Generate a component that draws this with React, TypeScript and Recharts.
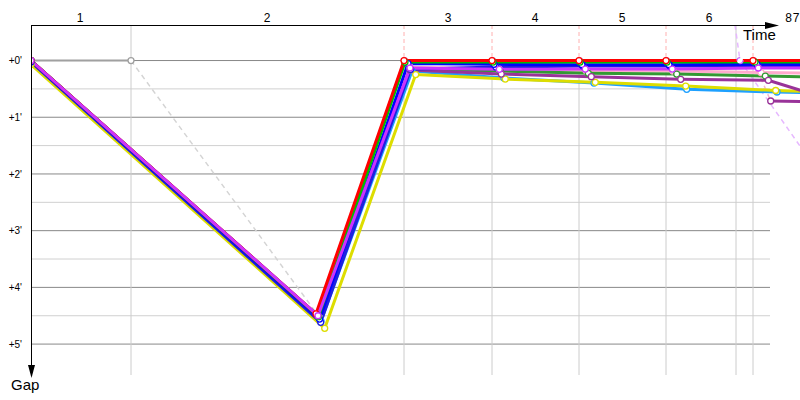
import { Line, LineChart, ReferenceLine, XAxis, YAxis } from "recharts";

type Pt = [number, number | null];

// [time (s), gap (s)] at each lap crossing
const red: Pt[] = [[0, 0], [285, 268], [373, 0], [461, 0], [548, 0], [635, 0], [722, 0], [810, 0]];
const green: Pt[] = [[0, 0], [287.5, 271], [374, 1.6], [462, 1.6], [549, 1.6], [636, 1.6], [724, 1.6], [811, 1.6]];
const blue: Pt[] = [[0, 0.5], [288.5, 273.5], [377, 3.2], [463, 4], [551, 4.4], [638, 4.4], [726, 4], [813, 4.4]];
const blue2: Pt[] = [[0, 1.5], [289.7, 277], [379.7, 9.3], [465, 6.9], [552, 5.8], [639, 5.8], [727, 5.8], [814, 6]];
const violet: Pt[] = [[0, 0], [287, 270], [379, 7.9], [468.3, 9.3], [554.3, 9], [641.3, 9], [727.3, 7.9], [815, 7.9]];
const purple: Pt[] = [[0, 0], [287, 270], [379, 10], [470.3, 14.3], [560.3, 17.1], [649.7, 19.9], [737.3, 20.9], [819, 47.9]];
const darkGreen: Pt[] = [[0, 0], [288, 272], [379, 9], [469, 11.1], [557.3, 13.5], [645.7, 14.3], [734.3, 16.4], [822, 18]];
const pink: Pt[] = [[0, 0], [288.5, 272], [379, 7], [468, 9], [555, 10.6], [642, 11.1], [730, 12.7], [818, 13.8]];
const cyan: Pt[] = [[0, 2], [290, 275.6], [381, 11.1], [473, 18.5], [563, 23.8], [655.7, 30.5], [746, 33.3], [835, 35.4]];
const yellow: Pt[] = [[0, 4.2], [293.7, 283.3], [384.7, 14.8], [474.3, 19.6], [564.3, 23.1], [654.7, 27], [744.7, 31.7], [835, 34.4]];
const plum: Pt[] = [[0, 0], [286, 269], [373.5, 0.5], [461.5, 0.5], [548.5, 0.5], [635.5, 0.5], [722.5, 0.5], [730, null], [739.7, 42.8], [819, 44.4]];
const plumPit: Pt[] = [[722.5, 0.5], [739.7, 42.8]];
const lilacPit: Pt[] = [[686.4, -169.8], [709, 0], [819, 165.9]];
const graySolid: Pt[] = [[0, 0], [100, 0]];
const grayPit: Pt[] = [[100, 0], [286, 268]];

// lap crossings of the leaders
const lapLines = [100, 373, 461, 548, 635, 705, 722];
const leaderLaps = [373, 461, 548, 635, 722];
const lapTicks = [49, 236, 417, 504, 591, 678, 757.5, 765];
const lapNames = ["1", "2", "3", "4", "5", "6", "8", "7"];

const gapTicks = [0, 60, 120, 180, 240, 300];
const gapHalf = [30, 90, 150, 210, 270];

const T_MAX = 769;
const G_MIN = -37.6;
const G_MAX = 332.7;
const GRID_END = 739;

const toData = (pts: Pt[]) => pts.map(([t, g]) => ({ t, g }));

const FONT = "Liberation Sans";

function driver(key: string, pts: Pt[], color: string, width = 3) {
  return (
    <Line
      key={key}
      data={toData(pts)}
      dataKey="g"
      type="linear"
      stroke={color}
      strokeWidth={width}
      dot={{ r: 3, fill: "#ffffff", stroke: color, strokeWidth: 1.3 }}
      activeDot={false}
      isAnimationActive={false}
    />
  );
}

function pit(key: string, pts: Pt[], color: string, dotColor?: string) {
  return (
    <Line
      key={key}
      data={toData(pts)}
      dataKey="g"
      type="linear"
      stroke={color}
      strokeWidth={1.5}
      strokeDasharray="5 4"
      dot={dotColor ? { r: 3, fill: "#ffffff", stroke: dotColor, strokeWidth: 1.3 } : false}
      activeDot={false}
      isAnimationActive={false}
    />
  );
}

export default function App() {
  return (
    <div style={{ position: "absolute", left: 0, top: 0, width: 800, height: 400, background: "#fff" }}>
      <LineChart width={800} height={400} margin={{ top: 0, right: 0, bottom: 25, left: 0 }}>
        <XAxis
          type="number"
          dataKey="t"
          orientation="top"
          domain={[0, T_MAX]}
          allowDataOverflow
          ticks={lapTicks}
          interval={0}
          height={25}
          tickSize={0}
          tickMargin={3}
          axisLine={false}
          tickLine={false}
          tickFormatter={(v) => lapNames[lapTicks.indexOf(Number(v))] ?? ""}
          tick={{ fontSize: 12, fill: "#000", fontFamily: FONT }}
        />
        <YAxis
          type="number"
          reversed
          domain={[G_MIN, G_MAX]}
          allowDataOverflow
          ticks={gapTicks}
          interval={0}
          width={31}
          tickSize={0}
          tickMargin={9}
          axisLine={false}
          tickLine={false}
          tickFormatter={(v) => `+${Number(v) / 60}'`}
          tick={{ fontSize: 10, fill: "#000", fontFamily: FONT }}
        />
        {gapHalf.map((g) => (
          <ReferenceLine key={`h${g}`} segment={[{ x: 0, y: g }, { x: GRID_END, y: g }]} stroke="#d0d0d0" />
        ))}
        {gapTicks.map((g) => (
          <ReferenceLine key={`m${g}`} segment={[{ x: 0, y: g }, { x: GRID_END, y: g }]} stroke="#888888" />
        ))}
        {lapLines.map((t) => (
          <ReferenceLine
            key={`v${t}`}
            segment={[{ x: t, y: leaderLaps.includes(t) ? 0 : G_MIN }, { x: t, y: G_MAX }]}
            stroke="#cccccc"
          />
        ))}
        {leaderLaps.map((t) => (
          <ReferenceLine
            key={`p${t}`}
            segment={[{ x: t, y: G_MIN }, { x: t, y: 0 }]}
            stroke="#ffb0b0"
            strokeDasharray="4 3"
          />
        ))}
        {pit("grayPit", grayPit, "#d4d4d4")}
        {driver("gray", graySolid, "#a0a0a0", 2)}
        {pit("lilacPit", lilacPit, "#e6b8ff", "#cc66ff")}
        {pit("plumPit", plumPit, "#f4b8cc")}
        {driver("plum", plum, "#993399")}
        {driver("pink", pink, "#ffaacc")}
        {driver("cyan", cyan, "#1ea0ff")}
        {driver("yellow", yellow, "#dddd00")}
        {driver("darkGreen", darkGreen, "#339933")}
        {driver("purple", purple, "#993399")}
        {driver("blue2", blue2, "#2020e0")}
        {driver("blue", blue, "#0000ff")}
        {driver("green", green, "#00bb00")}
        {driver("red", red, "#ff0000")}
        {driver("violet", violet, "#cc33ff")}
      </LineChart>
      <svg
        width={800}
        height={400}
        style={{ position: "absolute", left: 0, top: 0, pointerEvents: "none" }}
      >
        <line x1={31} y1={25.5} x2={766} y2={25.5} stroke="#000" strokeWidth={1} />
        <polygon points="765,22 779,25.5 765,29" fill="#000" />
        <line x1={31.5} y1={25} x2={31.5} y2={366} stroke="#000" strokeWidth={1} />
        <polygon points="28,365 31.5,378 35,365" fill="#000" />
        <text x={743} y={40} fontSize={15} fontFamily={FONT} fill="#000">
          Time
        </text>
        <text x={11} y={390} fontSize={15} fontFamily={FONT} fill="#000">
          Gap
        </text>
      </svg>
    </div>
  );
}
